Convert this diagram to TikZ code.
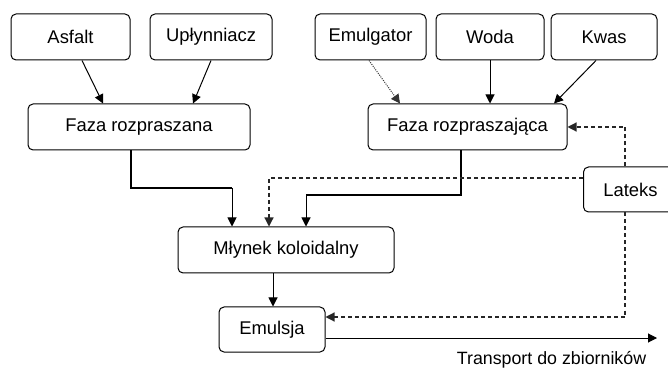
\documentclass[tikz,border=0pt]{standalone}
\usepackage{fontspec}
\setmainfont{Liberation Sans}
\usetikzlibrary{arrows.meta}
\begin{document}
\begin{tikzpicture}[x=0.5pt,y=-0.5pt,
  box/.style={draw, rounded corners=2.5pt, line width=0.5pt, inner sep=0pt,
    minimum height=23pt, font=\fontsize{9.2pt}{11pt}\selectfont},
  arr/.style={line width=0.5pt, -{Triangle[length=4.5pt,width=4.5pt]}},
  dasharr/.style={line width=0.6pt, draw=black!85, dash pattern=on 2pt off 1.5pt, -{Triangle[length=4.5pt,width=4.5pt]}},
  dotarr/.style={line width=0.5pt, draw=black!80, dash pattern=on 0.5pt off 0.6pt, -{Triangle[length=4.5pt,width=4.5pt]}}]
\useasboundingbox (0,0) rectangle (668,368);
\node[box, minimum width=59.5pt] (asf) at (70.5,37) {Asfalt};
\node[box, minimum width=61pt] (upl) at (211,37) {Upłynniacz};
\node[box, minimum width=55.5pt] (emu) at (370.5,37) {Emulgator};
\node[box, minimum width=54pt] (woda) at (490,37) {Woda};
\node[box, minimum width=53pt] (kwas) at (604,37) {Kwas};
\node[box, minimum width=111pt] (fr) at (139,127) {Faza rozpraszana};
\node[box, minimum width=99.5pt] (frz) at (467.5,127) {Faza rozpraszająca};
\node[box, minimum width=47pt, minimum height=22.5pt] (lat) at (630.5,189.5) {Lateks};
\node[box, minimum width=108pt] (mlyn) at (286,250) {Młynek koloidalny};
\node[box, minimum width=53pt, minimum height=22.5pt] (emul) at (272,329.5) {Emulsja};
\coordinate (tr) at (657,338);
\node[font=\fontsize{8.9pt}{11pt}\selectfont] (lbl) at (551.5,360) {Transport do zbiorników};

\draw[arr] (asf.south -| 82,0) -- (fr.north -| 103,0);
\draw[arr] (upl.south -| 211,0) -- (fr.north -| 193,0);
\draw[dotarr] (emu.south -| 369,0) -- (frz.north -| 400,0);
\draw[arr] (woda.south) -- (frz.north -| 490,0);
\draw[arr] (kwas.south -| 596,0) -- (frz.north -| 554,0);

\draw[line width=1pt] (fr.south -| 131,0) |- (232,188);
\draw[arr] (232,188) -- (mlyn.north -| 232,0);
\draw[line width=1pt] (frz.south -| 461,0) |- (306,195);
\draw[arr] (306,195) -- (mlyn.north -| 306,0);

\draw[dasharr] (lat.north -| 625,0) |- (frz.east);
\draw[dasharr] (lat.west |- 0,178) -| (mlyn.north -| 269,0);
\draw[dasharr] (lat.south -| 625,0) |- (emul.east |- 0,317);

\draw[arr] (mlyn.south -| 273,0) -- (emul.north -| 273,0);
\draw[arr] (emul.east |- 0,338) -- (tr);
\end{tikzpicture}
\end{document}
